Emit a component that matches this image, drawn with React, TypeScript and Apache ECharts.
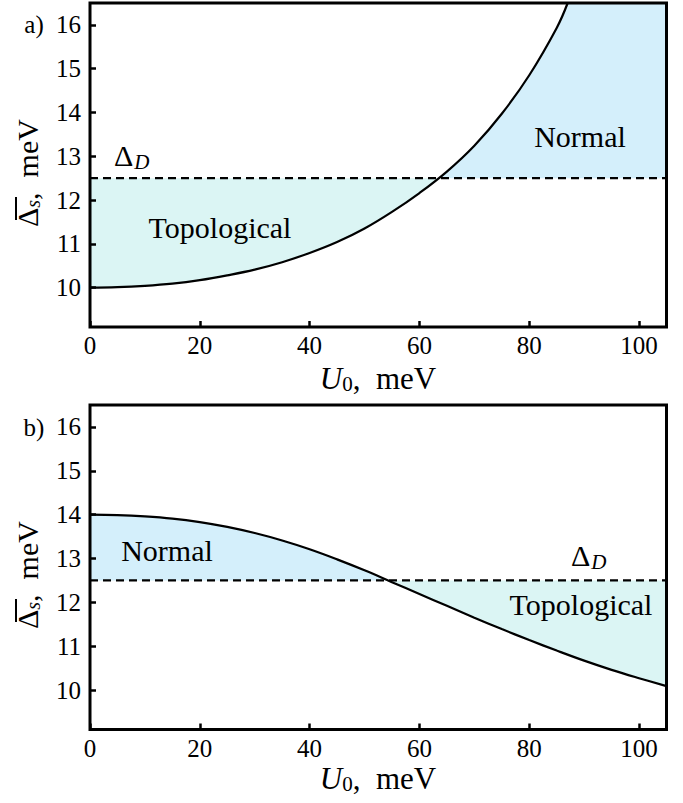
import React, { useEffect, useRef } from 'react';
import * as echarts from 'echarts';

// ---- data ----
const xTicks = [0, 20, 40, 60, 80, 100];
const yTicks = [10, 11, 12, 13, 14, 15, 16];
const deltaD = 12.5;
const xMin = 0;
const xMax = 105;
const yMin = 9.1;
const yMax = 16.5;

// panel a
const uA = [0, 5, 10, 15, 20, 25, 30, 35, 40, 45, 50, 55, 60, 65, 70, 75, 80, 85, 87];
const sA = [10.0, 10.01, 10.04, 10.09, 10.17, 10.28, 10.41, 10.58, 10.79, 11.04, 11.35, 11.73, 12.16, 12.65, 13.24, 13.97, 14.85, 15.93, 16.5];

// panel b
const uB = [0, 5, 10, 15, 20, 25, 30, 35, 40, 45, 50, 55, 60, 65, 70, 75, 80, 85, 90, 95, 100, 105];
const sB = [14.0, 13.99, 13.96, 13.91, 13.83, 13.72, 13.58, 13.41, 13.21, 12.98, 12.73, 12.46, 12.19, 11.92, 11.65, 11.39, 11.14, 10.9, 10.67, 10.46, 10.27, 10.09];

const colTopo = '#dbf5f4';
const colNorm = '#d4effb';
const FONT = 'Liberation Serif';

// polygon between curve and deltaD, where curve is on `side` of deltaD
function regionPolygon(us: number[], ss: number[], side: 'above' | 'below'): number[][] {
  const inside = (s: number) => (side === 'above' ? s >= deltaD : s <= deltaD);
  const pts: number[][] = [];
  for (let i = 0; i < us.length; i++) {
    if (i > 0) {
      const a = ss[i - 1] - deltaD;
      const b = ss[i] - deltaD;
      if (a * b < 0) {
        const t = a / (a - b);
        pts.push([us[i - 1] + t * (us[i] - us[i - 1]), deltaD]);
      }
    }
    if (inside(ss[i])) pts.push([us[i], Math.min(yMax, Math.max(yMin, ss[i]))]);
  }
  if (!pts.length) return pts;
  const last = pts[pts.length - 1];
  if (last[0] < xMax) pts.push([xMax, last[1]]);
  const first = pts[0];
  const lastP = pts[pts.length - 1];
  pts.push([lastP[0], deltaD]);
  pts.push([first[0], deltaD]);
  return pts;
}

function fillSeries(poly: number[][], color: string, idx: number) {
  return {
    type: 'custom',
    xAxisIndex: idx,
    yAxisIndex: idx,
    z: -1,
    silent: true,
    data: [[0, 0]],
    renderItem: (_p: any, api: any) => ({
      type: 'polygon',
      shape: { points: poly.map((p) => api.coord(p)), smooth: 0 },
      style: { fill: color, stroke: 'none' },
    }),
  };
}

function lineSeries(us: number[], ss: number[], idx: number) {
  return {
    type: 'line',
    xAxisIndex: idx,
    yAxisIndex: idx,
    data: us.map((u, i) => [u, ss[i]]),
    showSymbol: false,
    smooth: 0.4,
    lineStyle: { color: '#000', width: 2.2 },
    silent: true,
  };
}

function dashSeries(idx: number) {
  return {
    type: 'line',
    xAxisIndex: idx,
    yAxisIndex: idx,
    data: [[xMin, deltaD], [xMax, deltaD]],
    showSymbol: false,
    lineStyle: { color: '#000', width: 2.4, type: [8, 5] },
    silent: true,
  };
}

const labelStyle = { fontFamily: FONT, fontSize: 25, color: '#000' };
const tickStyle = { show: true, inside: true, length: 6, lineStyle: { color: '#000', width: 2.5 } };

function xAxis(idx: number) {
  return {
    type: 'value',
    gridIndex: idx,
    min: xMin,
    max: xMax,
    axisLine: { show: false },
    axisTick: { ...tickStyle, customValues: xTicks },
    splitLine: { show: false },
    axisLabel: {
      ...labelStyle,
      margin: 6,
      customValues: xTicks,
      formatter: (v: number) => String(Math.round(v)),
    },
  };
}

function yAxis(idx: number) {
  return {
    type: 'value',
    gridIndex: idx,
    min: yMin,
    max: yMax,
    axisLine: { show: false },
    axisTick: { ...tickStyle, customValues: yTicks },
    splitLine: { show: false },
    axisLabel: {
      ...labelStyle,
      margin: 9,
      customValues: yTicks,
      formatter: (v: number) => String(Math.round(v)),
    },
  };
}

const textBase = { fontFamily: FONT, fill: '#000' };

function ann(x: number, y: number, text: string, size = 30) {
  return {
    type: 'text',
    x,
    y,
    silent: true,
    style: { ...textBase, text, fontSize: size, align: 'center', verticalAlign: 'middle' },
  };
}

function deltaLabel(x: number, y: number) {
  return {
    type: 'text',
    x,
    y,
    silent: true,
    style: {
      ...textBase,
      text: '{a|Δ}{s|D}',
      align: 'left',
      verticalAlign: 'middle',
      rich: {
        a: { fontFamily: FONT, fontSize: 30, fill: '#000' },
        s: { fontFamily: FONT, fontSize: 21, fontStyle: 'italic', fill: '#000', padding: [14, 0, 0, 1] },
      },
    },
  };
}

function xTitle(y: number) {
  return {
    type: 'text',
    x: 378,
    y,
    silent: true,
    style: {
      ...textBase,
      text: '{i|U}{s|0}{n|,  meV}',
      align: 'center',
      verticalAlign: 'middle',
      rich: {
        i: { fontFamily: FONT, fontSize: 31, fontStyle: 'italic', fill: '#000' },
        s: { fontFamily: FONT, fontSize: 21, fill: '#000', padding: [12, 0, 0, 0] },
        n: { fontFamily: FONT, fontSize: 31, fill: '#000' },
      },
    },
  };
}

function yTitle(y: number) {
  return {
    type: 'text',
    x: 27,
    y,
    rotation: Math.PI / 2,
    silent: true,
    style: {
      ...textBase,
      text: '{a|Δ}{s|s}{n|,  meV}',
      align: 'center',
      verticalAlign: 'middle',
      rich: {
        a: { fontFamily: FONT, fontSize: 30, fill: '#000' },
        s: { fontFamily: FONT, fontSize: 20, fontStyle: 'italic', fill: '#000', padding: [12, 0, 0, 0] },
        n: { fontFamily: FONT, fontSize: 30, fill: '#000' },
      },
    },
  };
}

export default function App() {
  const ref = useRef<HTMLDivElement>(null);
  useEffect(() => {
    if (!ref.current) return;
    const chart = echarts.init(ref.current, undefined, { renderer: 'svg' });
    const gridStyle = { show: true, borderColor: '#000', borderWidth: 3, backgroundColor: 'transparent', containLabel: false };
    chart.setOption({
      animation: false,
      backgroundColor: '#fff',
      grid: [
        { ...gridStyle, left: 90, right: 16.5, top: 3, height: 324 },
        { ...gridStyle, left: 90, right: 16.5, top: 405, height: 324.5 },
      ],
      xAxis: [xAxis(0), xAxis(1)],
      yAxis: [yAxis(0), yAxis(1)],
      series: [
        fillSeries(regionPolygon(uA, sA, 'below'), colTopo, 0),
        fillSeries(regionPolygon(uA, sA, 'above'), colNorm, 0),
        fillSeries(regionPolygon(uB, sB, 'above'), colNorm, 1),
        fillSeries(regionPolygon(uB, sB, 'below'), colTopo, 1),
        lineSeries(uA, sA, 0),
        lineSeries(uB, sB, 1),
        dashSeries(0),
        dashSeries(1),
      ],
      graphic: [
        ann(34, 24, 'a)', 25),
        ann(34, 427, 'b)', 25),
        ann(220, 227, 'Topological'),
        ann(580, 136, 'Normal'),
        ann(167, 550, 'Normal'),
        ann(581, 604, 'Topological'),
        deltaLabel(114, 155),
        deltaLabel(571, 555),
        xTitle(378),
        xTitle(778),
        yTitle(173),
        yTitle(575),
        { type: 'rect', shape: { x: 15, y: 197, width: 2, height: 23 }, style: { fill: '#000' }, silent: true },
        { type: 'rect', shape: { x: 15, y: 599, width: 2, height: 23 }, style: { fill: '#000' }, silent: true },
      ],
    });
    return () => chart.dispose();
  }, []);
  return (
    <div
      ref={ref}
      style={{ position: 'fixed', left: 0, top: 0, width: 683, height: 803, background: '#fff' }}
    />
  );
}
